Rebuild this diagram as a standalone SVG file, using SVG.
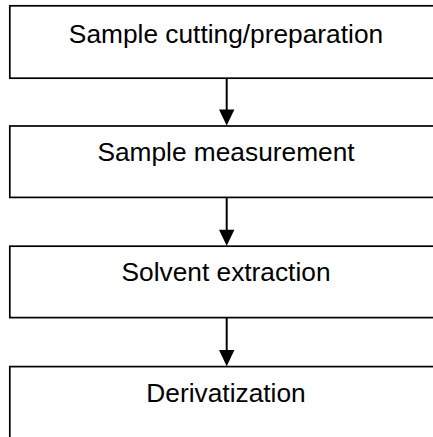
<svg xmlns="http://www.w3.org/2000/svg" width="433" height="437" viewBox="0 0 433 437">
<defs>
<style>
.box{fill:#fff;stroke:#000;stroke-width:1.7}
.lbl{font-family:"Liberation Sans",Arial,sans-serif;font-size:26.3px;fill:#000;text-anchor:middle}
.con{stroke:#000;stroke-width:2;fill:none}
.head{fill:#000;stroke:none}
</style>
</defs>
<rect width="433" height="437" fill="#fff"/>
<g id="n1"><rect class="box" x="9.8" y="5.8" width="440" height="72.4"/><text class="lbl" x="226" y="42.7">Sample cutting/preparation</text></g>
<g id="n2"><rect class="box" x="9.8" y="126" width="440" height="71.4"/><text class="lbl" x="226" y="161">Sample measurement</text></g>
<g id="n3"><rect class="box" x="9.8" y="246.2" width="440" height="71.4"/><text class="lbl" x="226" y="281">Solvent extraction</text></g>
<g id="n4"><rect class="box" x="9.8" y="366.6" width="440" height="90"/><text class="lbl" x="226" y="401.6">Derivatization</text></g>
<g id="connectors">
<line class="con" x1="226.7" y1="78.2" x2="226.7" y2="112"/>
<polygon class="head" points="219,109.5 234.4,109.5 226.7,125.6"/>
<line class="con" x1="226.7" y1="197.4" x2="226.7" y2="232"/>
<polygon class="head" points="219,229.8 234.4,229.8 226.7,245.8"/>
<line class="con" x1="226.7" y1="317.6" x2="226.7" y2="352"/>
<polygon class="head" points="219,350 234.4,350 226.7,366.2"/>
</g>
</svg>
